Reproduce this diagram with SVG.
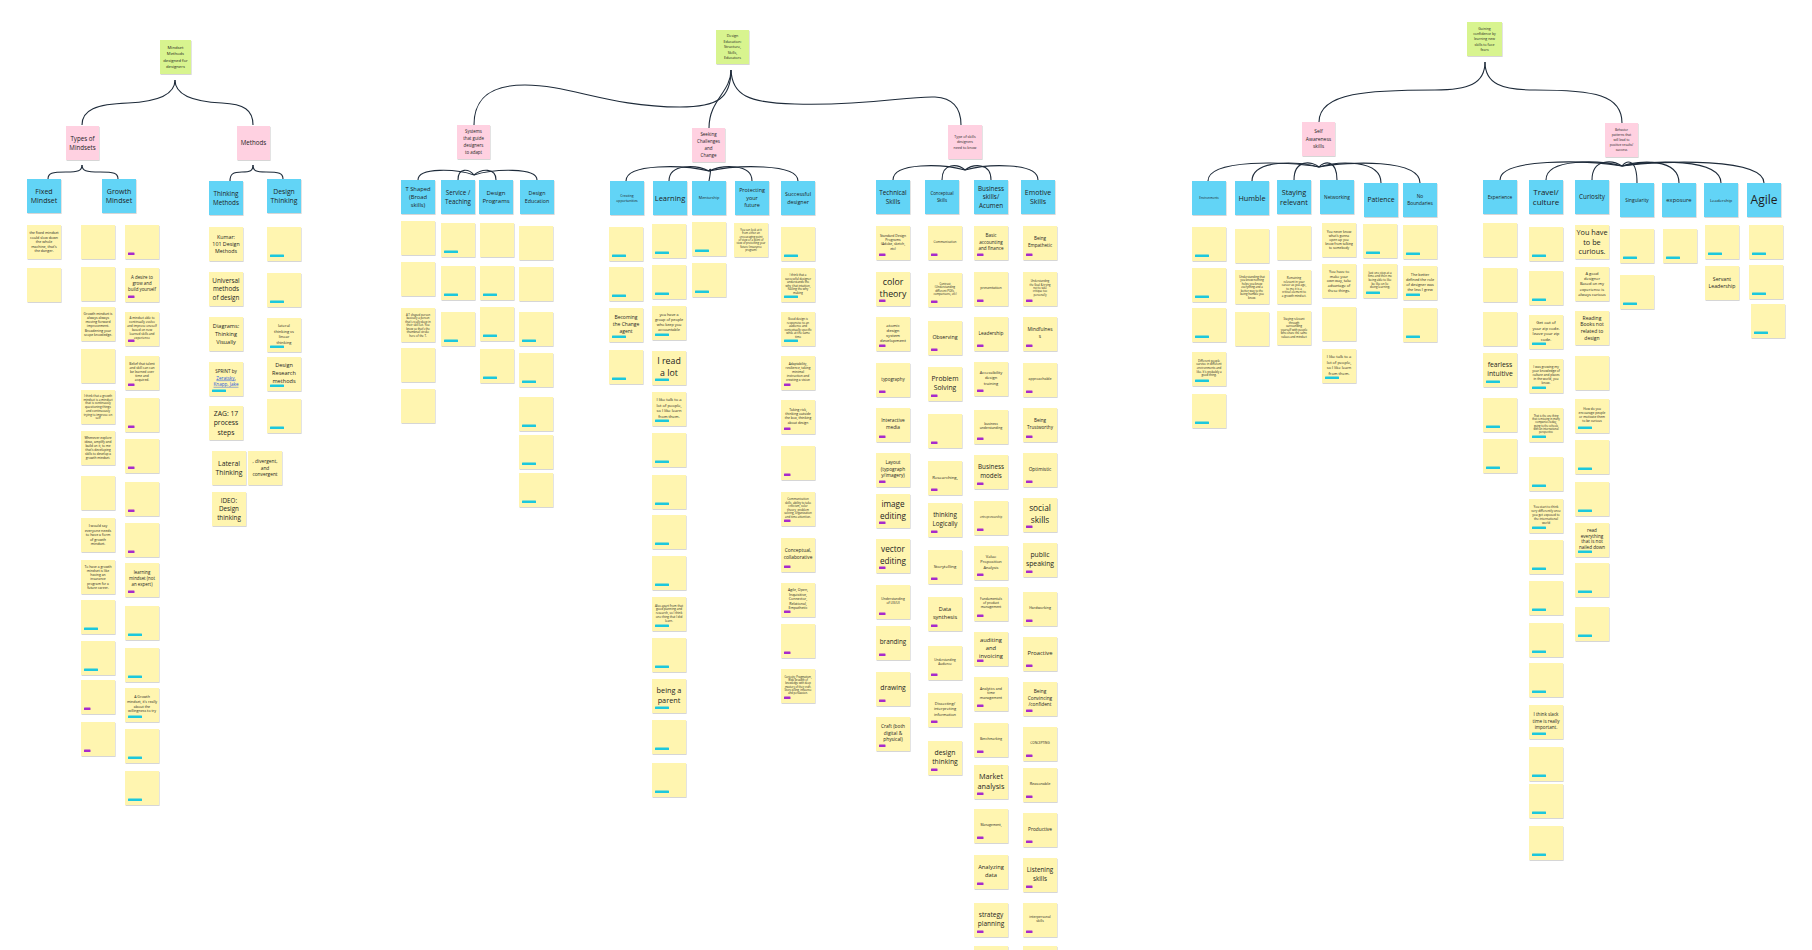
<svg xmlns="http://www.w3.org/2000/svg" xmlns:xlink="http://www.w3.org/1999/xlink" width="1812" height="950" viewBox="0 0 1812 950">
<style>
.note{fill:#fff5b0;filter:url(#sh)}
.hdr{fill:#62d4f6;filter:url(#sh)}
.cat{fill:#ffd1e1;filter:url(#sh)}
.root{fill:#d8f48f;filter:url(#sh)}
.tagp{fill:#a72bcc}
.tagc{fill:#1cc8dd}
.t{font-family:"Open Sans","Noto Sans",sans-serif;fill:#1d1d1d;text-anchor:middle}
.lk{fill:#1f55e0;text-decoration:underline}
.cn path{fill:none;stroke:#1e2b3a;stroke-width:1.1}
</style>
<defs>
<filter id="sh" x="-10%" y="-10%" width="130%" height="130%"><feDropShadow dx="0.6" dy="0.9" stdDeviation="0.5" flood-color="#000" flood-opacity="0.18"/></filter>
<rect id="N" width="34" height="34" class="note"/>
<rect id="P" x="3" y="27.5" width="6.5" height="2.6" rx="0.4" class="tagp"/>
<rect id="C" x="3" y="27.5" width="14" height="2.6" rx="0.4" class="tagc"/>
<rect id="H" width="34" height="34" class="hdr"/>
</defs>
<rect width="1812" height="950" fill="#ffffff"/>

<g id="connectors" class="cn">
<path d="M175,80 C175,98 150,102 128,103 C96,104 82,110 82,125"/>
<path d="M175,80 C175,98 200,102 222,103 C244,104 253,110 253,125"/>
<path d="M82,165 C82,171 78,172 66,172 C52,172 48,173 48,179"/>
<path d="M82,165 C82,171 86,172 100,172 C114,172 118,173 118,179"/>
<path d="M253,165 C253,171 250,172 242,172 C233,172 230,174 230,181"/>
<path d="M253,165 C253,171 256,172 266,172 C279,172 283,173 283,179"/>
<path d="M731,70 C731,98 718,107 680,107 C610,107 570,85 525,85 C488,85 474,100 474,125"/>
<path d="M731,70 C731,92 709,100 709,128"/>
<path d="M731,70 C732,95 748,103 795,104 C870,106 905,96 935,97 C953,98 961,108 961,125"/>
<path d="M1485,62 C1485,84 1468,90 1435,90 C1370,90 1319,92 1319,122"/>
<path d="M1485,62 C1485,84 1502,90 1535,90 C1595,90 1622,95 1622,123"/>
<path d="M474,175 C457,169 418,167 418,180"/>
<path d="M474,175 C469,169 458,167 458,180"/>
<path d="M474,175 C481,169 496,167 496,180"/>
<path d="M474,175 C493,169 537,167 537,180"/>
<path d="M709,171 C684,165 626,163 626,181"/>
<path d="M709,171 C697,165 669,163 669,181"/>
<path d="M709,171 C711,167 711,170 709,181"/>
<path d="M709,171 C722,165 752,163 752,181"/>
<path d="M709,171 C736,165 798,163 798,181"/>
<path d="M965,170 C943,164 893,162 893,180"/>
<path d="M965,170 C958,164 942,162 942,180"/>
<path d="M965,170 C973,164 991,162 991,180"/>
<path d="M965,170 C987,164 1038,162 1038,180"/>
<path d="M1319,167 C1286,161 1208,159 1208,181"/>
<path d="M1319,167 C1299,161 1252,159 1252,181"/>
<path d="M1319,167 C1312,161 1294,159 1294,180"/>
<path d="M1319,167 C1324,161 1337,159 1337,180"/>
<path d="M1319,167 C1338,161 1381,159 1381,183"/>
<path d="M1319,167 C1349,161 1420,159 1420,183"/>
<path d="M1622,166 C1585,160 1500,158 1500,180"/>
<path d="M1622,166 C1599,160 1546,158 1546,180"/>
<path d="M1622,166 C1613,160 1592,158 1592,180"/>
<path d="M1622,166 C1627,160 1637,158 1637,183"/>
<path d="M1622,166 C1639,160 1679,158 1679,183"/>
<path d="M1622,166 C1652,160 1721,158 1721,183"/>
<path d="M1622,166 C1665,160 1764,158 1764,183"/>
</g>

<!-- roots -->
<g id="root-mindset"><rect class="root" x="160" y="40" width="31" height="34"/><text class="t" x="175.5" y="49" font-size="4.2">Mindset<tspan x="175.5" dy="6.3">Methods</tspan><tspan x="175.5" dy="6.3">designed for</tspan><tspan x="175.5" dy="6.3">designers</tspan></text></g>
<g id="root-education"><rect class="root" x="716" y="30" width="33" height="34"/><text class="t" x="732.5" y="37.3" font-size="3.7">Design<tspan x="732.5" dy="5.5">Education:</tspan><tspan x="732.5" dy="5.5">Structure,</tspan><tspan x="732.5" dy="5.5">Skills,</tspan><tspan x="732.5" dy="5.5">Educators</tspan></text></g>
<g id="root-confidence"><rect class="root" x="1467" y="22" width="35" height="34"/><text class="t" x="1484.5" y="29.6" font-size="3.5">Gaining<tspan x="1484.5" dy="5.3">confidence by</tspan><tspan x="1484.5" dy="5.3">learning new</tspan><tspan x="1484.5" dy="5.3">skills to face</tspan><tspan x="1484.5" dy="5.3">fears</tspan></text></g>

<!-- categories -->
<g id="cat-types"><rect class="cat" x="66" y="126" width="33" height="34"/><text class="t" x="82.5" y="140.8" font-size="6.2">Types of<tspan x="82.5" dy="8.8">Mindsets</tspan></text></g>
<g id="cat-methods"><rect class="cat" x="237" y="126" width="33" height="34"/><text class="t" x="253.5" y="145.2" font-size="6.2">Methods</text></g>
<g id="cat-systems"><rect class="cat" x="457" y="125" width="33" height="34"/><text class="t" x="473.5" y="133.3" font-size="4.4">Systems<tspan x="473.5" dy="6.8">that guide</tspan><tspan x="473.5" dy="6.8">designers</tspan><tspan x="473.5" dy="6.8">to adapt</tspan></text></g>
<g id="cat-seeking"><rect class="cat" x="692" y="128" width="33" height="34"/><text class="t" x="708.5" y="136.1" font-size="4.5">Seeking<tspan x="708.5" dy="7">Challenges</tspan><tspan x="708.5" dy="7">and</tspan><tspan x="708.5" dy="7">Change</tspan></text></g>
<g id="cat-skilltypes"><rect class="cat" x="948" y="125" width="34" height="34"/><text class="t" x="965" y="137.5" font-size="3.6">Type of skills<tspan x="965" dy="5.8">designers</tspan><tspan x="965" dy="5.8">need to know</tspan></text></g>
<g id="cat-selfaware"><rect class="cat" x="1302" y="122" width="33" height="34"/><text class="t" x="1318.5" y="133.3" font-size="5">Self<tspan x="1318.5" dy="7.5">Awareness</tspan><tspan x="1318.5" dy="7.5">skills</tspan></text></g>
<g id="cat-behavior"><rect class="cat" x="1605" y="123" width="33" height="34"/><text class="t" x="1621.5" y="131.1" font-size="3.2">Behavior<tspan x="1621.5" dy="5">patterns that</tspan><tspan x="1621.5" dy="5">will lead to</tspan><tspan x="1621.5" dy="5">positive results/</tspan><tspan x="1621.5" dy="5">success</tspan></text></g>

<!-- headers -->
<g id="h-fixed"><use href="#H" x="27" y="179"/><text class="t" x="44" y="193.7" font-size="7">Fixed<tspan x="44" dy="9.6">Mindset</tspan></text></g>
<g id="h-growth"><use href="#H" x="102" y="179"/><text class="t" x="119" y="193.7" font-size="7">Growth<tspan x="119" dy="9.6">Mindset</tspan></text></g>
<g id="h-thinking"><use href="#H" x="209" y="181"/><text class="t" x="226" y="195.8" font-size="6.3">Thinking<tspan x="226" dy="8.8">Methods</tspan></text></g>
<g id="h-designthinking"><use href="#H" x="267" y="179"/><text class="t" x="284" y="193.6" font-size="6.8">Design<tspan x="284" dy="9.5">Thinking</tspan></text></g>
<g id="h-tshaped"><use href="#H" x="401" y="180"/><text class="t" x="418" y="191" font-size="5.8">T Shaped<tspan x="418" dy="8">(Broad</tspan><tspan x="418" dy="8">skills)</tspan></text></g>
<g id="h-service"><use href="#H" x="441" y="180"/><text class="t" x="458" y="194.9" font-size="6.2">Service /<tspan x="458" dy="8.6">Teaching</tspan></text></g>
<g id="h-programs"><use href="#H" x="479" y="180"/><text class="t" x="496" y="194.9" font-size="6">Design<tspan x="496" dy="8.4">Programs</tspan></text></g>
<g id="h-education"><use href="#H" x="520" y="180"/><text class="t" x="537" y="195.2" font-size="5.3">Design<tspan x="537" dy="7.4">Education</tspan></text></g>
<g id="h-creating"><use href="#H" x="610" y="181"/><text class="t" x="627" y="196.8" font-size="3.4">Creating<tspan x="627" dy="4.8">opportunities</tspan></text></g>
<g id="h-learning"><use href="#H" x="653" y="181"/><text class="t" x="670" y="200.6" font-size="7.5">Learning</text></g>
<g id="h-mentorship"><use href="#H" x="692" y="181"/><text class="t" x="709" y="199.3" font-size="3.8">Mentorship</text></g>
<g id="h-protecting"><use href="#H" x="735" y="181"/><text class="t" x="752" y="192.4" font-size="5.4">Protecting<tspan x="752" dy="7.5">your</tspan><tspan x="752" dy="7.5">future</tspan></text></g>
<g id="h-successful"><use href="#H" x="781" y="181"/><text class="t" x="798" y="196.1" font-size="5.4">Successful<tspan x="798" dy="7.5">designer</tspan></text></g>
<g id="h-technical"><use href="#H" x="876" y="180"/><text class="t" x="893" y="194.8" font-size="6.3">Technical<tspan x="893" dy="8.8">Skills</tspan></text></g>
<g id="h-conceptual"><use href="#H" x="925" y="180"/><text class="t" x="942" y="195.4" font-size="4.4">Conceptual<tspan x="942" dy="6.2">Skills</tspan></text></g>
<g id="h-business"><use href="#H" x="974" y="180"/><text class="t" x="991" y="190.6" font-size="6.3">Business<tspan x="991" dy="8.6">skills/</tspan><tspan x="991" dy="8.6">Acumen</tspan></text></g>
<g id="h-emotive"><use href="#H" x="1021" y="180"/><text class="t" x="1038" y="194.7" font-size="7">Emotive<tspan x="1038" dy="9.6">Skills</tspan></text></g>
<g id="h-environments"><use href="#H" x="1192" y="181"/><text class="t" x="1209" y="199" font-size="3">Environments</text></g>
<g id="h-humble"><use href="#H" x="1235" y="181"/><text class="t" x="1252" y="200.6" font-size="7.3">Humble</text></g>
<g id="h-staying"><use href="#H" x="1277" y="180"/><text class="t" x="1294" y="194.7" font-size="7.3">Staying<tspan x="1294" dy="9.8">relevant</tspan></text></g>
<g id="h-networking"><use href="#H" x="1320" y="180"/><text class="t" x="1337" y="198.7" font-size="4.8">Networking</text></g>
<g id="h-patience"><use href="#H" x="1364" y="183"/><text class="t" x="1381" y="202.4" font-size="6.8">Patience</text></g>
<g id="h-noboundaries"><use href="#H" x="1403" y="183"/><text class="t" x="1420" y="198.3" font-size="4.8">No<tspan x="1420" dy="6.7">Boundaries</tspan></text></g>
<g id="h-experience"><use href="#H" x="1483" y="180"/><text class="t" x="1500" y="198.7" font-size="4.8">Experience</text></g>
<g id="h-travel"><use href="#H" x="1529" y="180"/><text class="t" x="1546" y="194.6" font-size="8">Travel/<tspan x="1546" dy="10.5">culture</tspan></text></g>
<g id="h-curiosity"><use href="#H" x="1575" y="180"/><text class="t" x="1592" y="199.2" font-size="6.3">Curiosity</text></g>
<g id="h-singularity"><use href="#H" x="1620" y="183"/><text class="t" x="1637" y="201.7" font-size="4.8">Singularity</text></g>
<g id="h-exposure"><use href="#H" x="1662" y="183"/><text class="t" x="1679" y="202" font-size="5.8">exposure</text></g>
<g id="h-leadership"><use href="#H" x="1704" y="183"/><text class="t" x="1721" y="201.5" font-size="4.3">Leadership</text></g>
<g id="h-agile"><use href="#H" x="1747" y="183"/><text class="t" x="1764" y="204.2" font-size="12">Agile</text></g>

<!-- Fixed mindset notes -->
<g id="fx1"><use href="#N" x="27" y="225"/><text class="t" x="44" y="234.3" font-size="3.6">the fixed mindset<tspan x="44" dy="4.5">could slow down</tspan><tspan x="44" dy="4.5">the whole</tspan><tspan x="44" dy="4.5">machine, that's</tspan><tspan x="44" dy="4.5">the danger.</tspan></text></g>
<g id="fx2"><use href="#N" x="27" y="268"/></g>

<!-- Growth mindset col 1 -->
<g id="ga1"><use href="#N" x="81" y="225"/></g>
<g id="ga2"><use href="#N" x="81" y="267"/></g>
<g id="ga3"><use href="#N" x="81" y="307"/><text class="t" x="98" y="314.6" font-size="3.4">Growth mindset is<tspan x="98" dy="4.25">always always</tspan><tspan x="98" dy="4.25">moving forward</tspan><tspan x="98" dy="4.25">improvement.</tspan><tspan x="98" dy="4.25">Broadening your</tspan><tspan x="98" dy="4.25">scope knowledge.</tspan></text></g>
<g id="ga4"><use href="#N" x="81" y="349"/></g>
<g id="ga5"><use href="#N" x="81" y="390"/><text class="t" x="98" y="396.8" font-size="3">I think that a growth<tspan x="98" dy="3.75">mindset is a mindset</tspan><tspan x="98" dy="3.75">that is continuosly</tspan><tspan x="98" dy="3.75">questioning things</tspan><tspan x="98" dy="3.75">and continuously</tspan><tspan x="98" dy="3.75">trying to improve on</tspan><tspan x="98" dy="3.75">self</tspan></text></g>
<g id="ga6"><use href="#N" x="81" y="431"/><text class="t" x="98" y="439.1" font-size="3.2">Whenever explore<tspan x="98" dy="4">ideas, amplify and</tspan><tspan x="98" dy="4">build on it, to me</tspan><tspan x="98" dy="4">that's developing</tspan><tspan x="98" dy="4">skills to develop a</tspan><tspan x="98" dy="4">growth mindset.</tspan></text></g>
<g id="ga7"><use href="#N" x="81" y="476"/></g>
<g id="ga8"><use href="#N" x="81" y="518"/><text class="t" x="98" y="527.3" font-size="3.6">I would say<tspan x="98" dy="4.5">everyone needs</tspan><tspan x="98" dy="4.5">to have a form</tspan><tspan x="98" dy="4.5">of growth</tspan><tspan x="98" dy="4.5">mindset.</tspan></text></g>
<g id="ga9"><use href="#N" x="81" y="560"/><text class="t" x="98" y="567.6" font-size="3.4">To have a growth<tspan x="98" dy="4.25">mindset is like</tspan><tspan x="98" dy="4.25">having an</tspan><tspan x="98" dy="4.25">insurance</tspan><tspan x="98" dy="4.25">program for a</tspan><tspan x="98" dy="4.25">future career.</tspan></text></g>
<g id="ga10"><use href="#N" x="81" y="600"/><use href="#C" x="81" y="600"/></g>
<g id="ga11"><use href="#N" x="81" y="641"/><use href="#C" x="81" y="641"/></g>
<g id="ga12"><use href="#N" x="81" y="680"/><use href="#P" x="81" y="680"/></g>
<g id="ga13"><use href="#N" x="81" y="722"/><use href="#P" x="81" y="722"/></g>

<!-- Growth mindset col 2 -->
<g id="gb1"><use href="#N" x="125" y="225"/><use href="#P" x="125" y="225"/></g>
<g id="gb2"><use href="#N" x="125" y="268"/><use href="#P" x="125" y="268"/><text class="t" x="142" y="279.3" font-size="4.4">A desire to<tspan x="142" dy="6">grow and</tspan><tspan x="142" dy="6">build yourself</tspan></text></g>
<g id="gb3"><use href="#N" x="125" y="312"/><use href="#P" x="125" y="312"/><text class="t" x="142" y="319.3" font-size="3.1">A mindset able to<tspan x="142" dy="3.9">continually evolve</tspan><tspan x="142" dy="3.9">and improve oneself</tspan><tspan x="142" dy="3.9">based on new</tspan><tspan x="142" dy="3.9">learned skills and</tspan><tspan x="142" dy="3.9">experience</tspan></text></g>
<g id="gb4"><use href="#N" x="125" y="356"/><use href="#P" x="125" y="356"/><text class="t" x="142" y="364.9" font-size="3.3">Belief that talent<tspan x="142" dy="4.1">and skill can can</tspan><tspan x="142" dy="4.1">be learned over</tspan><tspan x="142" dy="4.1">time and</tspan><tspan x="142" dy="4.1">acquired.</tspan></text></g>
<g id="gb5"><use href="#N" x="125" y="398"/><use href="#P" x="125" y="398"/></g>
<g id="gb6"><use href="#N" x="125" y="439"/><use href="#P" x="125" y="439"/></g>
<g id="gb7"><use href="#N" x="125" y="482"/><use href="#P" x="125" y="482"/></g>
<g id="gb8"><use href="#N" x="125" y="523"/><use href="#P" x="125" y="523"/></g>
<g id="gb9"><use href="#N" x="125" y="563"/><use href="#P" x="125" y="563"/><text class="t" x="142" y="574.3" font-size="4.4">learning<tspan x="142" dy="6">mindset (not</tspan><tspan x="142" dy="6">an expert)</tspan></text></g>
<g id="gb10"><use href="#N" x="125" y="606"/><use href="#C" x="125" y="606"/></g>
<g id="gb11"><use href="#N" x="125" y="648"/><use href="#C" x="125" y="648"/></g>
<g id="gb12"><use href="#N" x="125" y="688"/><use href="#C" x="125" y="688"/><text class="t" x="142" y="698" font-size="3.6">A Growth<tspan x="142" dy="4.8">mindset, it's really</tspan><tspan x="142" dy="4.8">about the</tspan><tspan x="142" dy="4.8">willingness to try</tspan></text></g>
<g id="gb13"><use href="#N" x="125" y="729"/><use href="#C" x="125" y="729"/></g>
<g id="gb14"><use href="#N" x="125" y="771"/><use href="#C" x="125" y="771"/></g>

<!-- Thinking methods -->
<g id="tm1"><use href="#N" x="209" y="227"/><text class="t" x="226" y="238.5" font-size="5.3">Kumar:<tspan x="226" dy="7.4">101 Design</tspan><tspan x="226" dy="7.4">Methods</tspan></text></g>
<g id="tm2"><use href="#N" x="209" y="272"/><text class="t" x="226" y="282.6" font-size="6.3">Universal<tspan x="226" dy="8.6">methods</tspan><tspan x="226" dy="8.6">of design</tspan></text></g>
<g id="tm3"><use href="#N" x="209" y="317"/><text class="t" x="226" y="328.4" font-size="5.6">Diagrams:<tspan x="226" dy="7.6">Thinking</tspan><tspan x="226" dy="7.6">Visually</tspan></text></g>
<g id="tm4"><use href="#N" x="209" y="362"/><use href="#C" x="209" y="362"/><text class="t" x="226" y="373.3" font-size="4.6">SPRINT by<tspan x="226" dy="6.3" class="lk">Zeratsky,</tspan><tspan x="226" dy="6.3" class="lk">Knapp, Jake</tspan></text></g>
<g id="tm5"><use href="#N" x="209" y="406"/><text class="t" x="226" y="416.2" font-size="6.8">ZAG: 17<tspan x="226" dy="9.2">process</tspan><tspan x="226" dy="9.2">steps</tspan></text></g>
<g id="tm6"><use href="#N" x="212" y="451"/><text class="t" x="229" y="465.8" font-size="6.8">Lateral<tspan x="229" dy="9.2">Thinking</tspan></text></g>
<g id="tm7"><use href="#N" x="248" y="451"/><text class="t" x="265" y="463.1" font-size="4.8">, divergent,<tspan x="265" dy="6.6">and</tspan><tspan x="265" dy="6.6">convergent</tspan></text></g>
<g id="tm8"><use href="#N" x="212" y="492"/><text class="t" x="229" y="502.6" font-size="6.3">IDEO:<tspan x="229" dy="8.6">Design</tspan><tspan x="229" dy="8.6">thinking</tspan></text></g>

<!-- Design thinking -->
<g id="dt1"><use href="#N" x="267" y="227"/><use href="#C" x="267" y="227"/></g>
<g id="dt2"><use href="#N" x="267" y="273"/><use href="#C" x="267" y="273"/></g>
<g id="dt3"><use href="#N" x="267" y="318"/><use href="#C" x="267" y="318"/><text class="t" x="284" y="327.3" font-size="4">lateral<tspan x="284" dy="5.4">thinking vs</tspan><tspan x="284" dy="5.4">linear</tspan><tspan x="284" dy="5.4">thinking</tspan></text></g>
<g id="dt4"><use href="#N" x="267" y="357"/><use href="#C" x="267" y="357"/><text class="t" x="284" y="367.4" font-size="5.6">Design<tspan x="284" dy="7.6">Research</tspan><tspan x="284" dy="7.6">methods</tspan></text></g>
<g id="dt5"><use href="#N" x="267" y="399"/><use href="#C" x="267" y="399"/></g>

<!-- T shaped -->
<g id="ts1"><use href="#N" x="401" y="221"/></g>
<g id="ts2"><use href="#N" x="401" y="262"/></g>
<g id="ts3"><use href="#N" x="401" y="308"/><text class="t" x="418" y="315.5" font-size="2.8">A T shaped person<tspan x="418" dy="3.5">basically a person</tspan><tspan x="418" dy="3.5">that's really deep in</tspan><tspan x="418" dy="3.5">their skill set. You</tspan><tspan x="418" dy="3.5">know so that's the</tspan><tspan x="418" dy="3.5">thumbnail stroke</tspan><tspan x="418" dy="3.5">here of the T.</tspan></text></g>
<g id="ts4"><use href="#N" x="401" y="348"/></g>
<g id="ts5"><use href="#N" x="401" y="389"/></g>

<!-- Service / Teaching -->
<g id="sv1"><use href="#N" x="441" y="223"/><use href="#C" x="441" y="223"/></g>
<g id="sv2"><use href="#N" x="441" y="266"/><use href="#C" x="441" y="266"/></g>
<g id="sv3"><use href="#N" x="441" y="312"/><use href="#C" x="441" y="312"/></g>

<!-- Design programs -->
<g id="dp1"><use href="#N" x="480" y="223"/></g>
<g id="dp2"><use href="#N" x="480" y="266"/><use href="#C" x="480" y="266"/></g>
<g id="dp3"><use href="#N" x="480" y="307"/><use href="#C" x="480" y="307"/></g>
<g id="dp4"><use href="#N" x="480" y="349"/><use href="#C" x="480" y="349"/></g>

<!-- Design education -->
<g id="de1"><use href="#N" x="519" y="226"/></g>
<g id="de2"><use href="#N" x="519" y="267"/></g>
<g id="de3"><use href="#N" x="519" y="312"/><use href="#C" x="519" y="312"/></g>
<g id="de4"><use href="#N" x="519" y="353"/><use href="#C" x="519" y="353"/></g>
<g id="de5"><use href="#N" x="519" y="397"/><use href="#C" x="519" y="397"/></g>
<g id="de6"><use href="#N" x="519" y="435"/><use href="#C" x="519" y="435"/></g>
<g id="de7"><use href="#N" x="519" y="473"/><use href="#C" x="519" y="473"/></g>

<!-- Creating opportunities -->
<g id="co1"><use href="#N" x="609" y="227"/><use href="#C" x="609" y="227"/></g>
<g id="co2"><use href="#N" x="609" y="267"/><use href="#C" x="609" y="267"/></g>
<g id="co3"><use href="#N" x="609" y="308"/><use href="#C" x="609" y="308"/><text class="t" x="626" y="318.9" font-size="5">Becoming<tspan x="626" dy="6.9">the Change</tspan><tspan x="626" dy="6.9">agent</tspan></text></g>
<g id="co4"><use href="#N" x="609" y="350"/><use href="#C" x="609" y="350"/></g>

<!-- Learning -->
<g id="le1"><use href="#N" x="652" y="224"/><use href="#C" x="652" y="224"/></g>
<g id="le2"><use href="#N" x="652" y="265"/><use href="#C" x="652" y="265"/></g>
<g id="le3"><use href="#N" x="652" y="306"/><use href="#C" x="652" y="306"/><text class="t" x="669" y="315.8" font-size="3.8">you have a<tspan x="669" dy="5">group of people</tspan><tspan x="669" dy="5">who keep you</tspan><tspan x="669" dy="5">accountable</tspan></text></g>
<g id="le4"><use href="#N" x="652" y="351"/><use href="#C" x="652" y="351"/><text class="t" x="669" y="364.1" font-size="8.8">I read<tspan x="669" dy="12">a lot</tspan></text></g>
<g id="le5"><use href="#N" x="652" y="392"/><use href="#C" x="652" y="392"/><text class="t" x="669" y="401.2" font-size="4.1">I like talk to a<tspan x="669" dy="5.5">lot of people,</tspan><tspan x="669" dy="5.5">so I like learn</tspan><tspan x="669" dy="5.5">from them.</tspan></text></g>
<g id="le6"><use href="#N" x="652" y="433"/><use href="#C" x="652" y="433"/></g>
<g id="le7"><use href="#N" x="652" y="475"/><use href="#C" x="652" y="475"/></g>
<g id="le8"><use href="#N" x="652" y="515"/><use href="#C" x="652" y="515"/></g>
<g id="le9"><use href="#N" x="652" y="556"/><use href="#C" x="652" y="556"/></g>
<g id="le10"><use href="#N" x="652" y="597"/><use href="#C" x="652" y="597"/><text class="t" x="669" y="606.6" font-size="3">Also apart from that<tspan x="669" dy="3.75">good planning and</tspan><tspan x="669" dy="3.75">research, so I think</tspan><tspan x="669" dy="3.75">one thing that I did</tspan><tspan x="669" dy="3.75">learn.</tspan></text></g>
<g id="le11"><use href="#N" x="652" y="638"/><use href="#C" x="652" y="638"/></g>
<g id="le12"><use href="#N" x="652" y="679"/><use href="#C" x="652" y="679"/><text class="t" x="669" y="692.6" font-size="7.3">being a<tspan x="669" dy="10">parent</tspan></text></g>
<g id="le13"><use href="#N" x="652" y="720"/><use href="#C" x="652" y="720"/></g>
<g id="le14"><use href="#N" x="652" y="763"/><use href="#C" x="652" y="763"/></g>

<!-- Mentorship -->
<g id="me1"><use href="#N" x="692" y="222"/><use href="#C" x="692" y="222"/></g>
<g id="me2"><use href="#N" x="692" y="263"/><use href="#C" x="692" y="263"/></g>

<!-- Protecting your future -->
<g id="pf1"><use href="#N" x="734" y="223"/><text class="t" x="751" y="230.8" font-size="2.7">You can look at it<tspan x="751" dy="3.4">from either an</tspan><tspan x="751" dy="3.4">encouraging point</tspan><tspan x="751" dy="3.4">of view or a point of</tspan><tspan x="751" dy="3.4">view of protecting your</tspan><tspan x="751" dy="3.4">future (insurance</tspan><tspan x="751" dy="3.4">program)</tspan></text></g>

<!-- Successful designer -->
<g id="sd1"><use href="#N" x="781" y="227"/><use href="#C" x="781" y="227"/></g>
<g id="sd2"><use href="#N" x="781" y="268"/><use href="#C" x="781" y="268"/><text class="t" x="798" y="276" font-size="2.9">I think that a<tspan x="798" dy="3.6">successful designer</tspan><tspan x="798" dy="3.6">understands the</tspan><tspan x="798" dy="3.6">why, that intuition,</tspan><tspan x="798" dy="3.6">fueling the why</tspan><tspan x="798" dy="3.6">making</tspan></text></g>
<g id="sd3"><use href="#N" x="781" y="312"/><use href="#C" x="781" y="312"/><text class="t" x="798" y="320" font-size="2.9">Good design is<tspan x="798" dy="3.6">responsive to an</tspan><tspan x="798" dy="3.6">audience and</tspan><tspan x="798" dy="3.6">contextually specific</tspan><tspan x="798" dy="3.6">while at the same</tspan><tspan x="798" dy="3.6">time</tspan></text></g>
<g id="sd4"><use href="#N" x="781" y="356"/><use href="#P" x="781" y="356"/><text class="t" x="798" y="365.1" font-size="3.2">Adaptability,<tspan x="798" dy="4">resilience, taking</tspan><tspan x="798" dy="4">minimal</tspan><tspan x="798" dy="4">instruction and</tspan><tspan x="798" dy="4">creating a vision</tspan></text></g>
<g id="sd5"><use href="#N" x="781" y="400"/><use href="#P" x="781" y="400"/><text class="t" x="798" y="410.8" font-size="3.4">Taking risk,<tspan x="798" dy="4.25">thinking outside</tspan><tspan x="798" dy="4.25">the box, thinking</tspan><tspan x="798" dy="4.25">about design</tspan></text></g>
<g id="sd6"><use href="#N" x="781" y="446"/><use href="#P" x="781" y="446"/></g>
<g id="sd7"><use href="#N" x="781" y="492"/><use href="#P" x="781" y="492"/><text class="t" x="798" y="500" font-size="2.9">Communication<tspan x="798" dy="3.6">skills, ability to take</tspan><tspan x="798" dy="3.6">criticism, color</tspan><tspan x="798" dy="3.6">theory, problem</tspan><tspan x="798" dy="3.6">solving, organization</tspan><tspan x="798" dy="3.6">and time attention.</tspan></text></g>
<g id="sd8"><use href="#N" x="781" y="538"/><use href="#P" x="781" y="538"/><text class="t" x="798" y="552.3" font-size="4.8">Conceptual,<tspan x="798" dy="6.7">collaborative</tspan></text></g>
<g id="sd9"><use href="#N" x="781" y="583"/><use href="#P" x="781" y="583"/><text class="t" x="798" y="591.3" font-size="3.6">Agile, Open,<tspan x="798" dy="4.5">Inquisitive,</tspan><tspan x="798" dy="4.5">Connector,</tspan><tspan x="798" dy="4.5">Relational,</tspan><tspan x="798" dy="4.5">Empathetic</tspan></text></g>
<g id="sd10"><use href="#N" x="781" y="624"/><use href="#P" x="781" y="624"/></g>
<g id="sd11"><use href="#N" x="781" y="669"/><use href="#P" x="781" y="669"/><text class="t" x="798" y="677.8" font-size="2.6">Curiosity, Pragmatism,<tspan x="798" dy="3.25">Wide breadth of</tspan><tspan x="798" dy="3.25">knowledge with deep</tspan><tspan x="798" dy="3.25">mastery of their craft.</tspan><tspan x="798" dy="3.25">Story-telling, influence</tspan><tspan x="798" dy="3.25">and persuasion.</tspan></text></g>

<!-- Technical skills -->
<g id="te1"><use href="#N" x="876" y="226"/><use href="#P" x="876" y="226"/><text class="t" x="893" y="236.8" font-size="3.4">Standard Design<tspan x="893" dy="4.25">Programs</tspan><tspan x="893" dy="4.25">(Adobe, sketch,</tspan><tspan x="893" dy="4.25">etc)</tspan></text></g>
<g id="te2"><use href="#N" x="876" y="272"/><use href="#P" x="876" y="272"/><text class="t" x="893" y="285" font-size="8.8">color<tspan x="893" dy="12.3">theory</tspan></text></g>
<g id="te3"><use href="#N" x="876" y="317"/><use href="#P" x="876" y="317"/><text class="t" x="893" y="326.6" font-size="4.2">atomic<tspan x="893" dy="5.25">design</tspan><tspan x="893" dy="5.25">system</tspan><tspan x="893" dy="5.25">development</tspan></text></g>
<g id="te4"><use href="#N" x="876" y="363"/><use href="#P" x="876" y="363"/><text class="t" x="893" y="380.5" font-size="4.4">typography</text></g>
<g id="te5"><use href="#N" x="876" y="408"/><use href="#P" x="876" y="408"/><text class="t" x="893" y="422.4" font-size="4.8">Interactive<tspan x="893" dy="6.6">media</tspan></text></g>
<g id="te6"><use href="#N" x="876" y="453"/><use href="#P" x="876" y="453"/><text class="t" x="893" y="464.4" font-size="4.8">Layout<tspan x="893" dy="6.3">(typograph</tspan><tspan x="893" dy="6.3">y/imagery)</tspan></text></g>
<g id="te7"><use href="#N" x="876" y="494"/><use href="#P" x="876" y="494"/><text class="t" x="893" y="507.3" font-size="8.2">image<tspan x="893" dy="11.2">editing</tspan></text></g>
<g id="te8"><use href="#N" x="876" y="539"/><use href="#P" x="876" y="539"/><text class="t" x="893" y="552.3" font-size="8.2">vector<tspan x="893" dy="11.2">editing</tspan></text></g>
<g id="te9"><use href="#N" x="876" y="585"/><use href="#P" x="876" y="585"/><text class="t" x="893" y="600.1" font-size="3.4">Understanding<tspan x="893" dy="4.25">of UX/UI</tspan></text></g>
<g id="te10"><use href="#N" x="876" y="626"/><use href="#P" x="876" y="626"/><text class="t" x="893" y="644.2" font-size="6.3">branding</text></g>
<g id="te11"><use href="#N" x="876" y="672"/><use href="#P" x="876" y="672"/><text class="t" x="893" y="690.4" font-size="6.8">drawing</text></g>
<g id="te12"><use href="#N" x="876" y="717"/><use href="#P" x="876" y="717"/><text class="t" x="893" y="728.1" font-size="4.8">Craft (both<tspan x="893" dy="6.6">digital &amp;</tspan><tspan x="893" dy="6.6">physical)</tspan></text></g>

<!-- Conceptual skills -->
<g id="cs1"><use href="#N" x="928" y="226"/><use href="#P" x="928" y="226"/><text class="t" x="945" y="243.1" font-size="3.1">Communication</text></g>
<g id="cs2"><use href="#N" x="928" y="273"/><use href="#P" x="928" y="273"/><text class="t" x="945" y="284.7" font-size="2.8">Contrast<tspan x="945" dy="3.5">(Understanding</tspan><tspan x="945" dy="3.5">different POVs,</tspan><tspan x="945" dy="3.5">comparisons, etc)</tspan></text></g>
<g id="cs3"><use href="#N" x="928" y="321"/><use href="#P" x="928" y="321"/><text class="t" x="945" y="338.9" font-size="5.3">Observing</text></g>
<g id="cs4"><use href="#N" x="928" y="367"/><use href="#P" x="928" y="367"/><text class="t" x="945" y="380.8" font-size="6.8">Problem<tspan x="945" dy="9.2">Solving</tspan></text></g>
<g id="cs5"><use href="#N" x="928" y="414"/><use href="#P" x="928" y="414"/></g>
<g id="cs6"><use href="#N" x="928" y="461"/><use href="#P" x="928" y="461"/><text class="t" x="945" y="478.5" font-size="4.3">Researching,</text></g>
<g id="cs7"><use href="#N" x="928" y="503"/><use href="#P" x="928" y="503"/><text class="t" x="945" y="516.9" font-size="6.3">thinking<tspan x="945" dy="8.6">Logically</tspan></text></g>
<g id="cs8"><use href="#N" x="928" y="550"/><use href="#P" x="928" y="550"/><text class="t" x="945" y="567.5" font-size="4.3">Storytelling</text></g>
<g id="cs9"><use href="#N" x="928" y="597"/><use href="#P" x="928" y="597"/><text class="t" x="945" y="611.2" font-size="5.6">Data<tspan x="945" dy="7.6">synthesis</tspan></text></g>
<g id="cs10"><use href="#N" x="928" y="646"/><use href="#P" x="928" y="646"/><text class="t" x="945" y="661.1" font-size="3.1">Understanding<tspan x="945" dy="3.9">Audience</tspan></text></g>
<g id="cs11"><use href="#N" x="928" y="693"/><use href="#P" x="928" y="693"/><text class="t" x="945" y="704.9" font-size="4">Dissecting/<tspan x="945" dy="5.5">interpreting</tspan><tspan x="945" dy="5.5">information</tspan></text></g>
<g id="cs12"><use href="#N" x="928" y="741"/><use href="#P" x="928" y="741"/><text class="t" x="945" y="754.8" font-size="6.8">design<tspan x="945" dy="9.2">thinking</tspan></text></g>

<!-- Business skills -->
<g id="bs1"><use href="#N" x="974" y="226"/><use href="#P" x="974" y="226"/><text class="t" x="991" y="237.3" font-size="4.6">Basic<tspan x="991" dy="6.3">accounting</tspan><tspan x="991" dy="6.3">and finance</tspan></text></g>
<g id="bs2"><use href="#N" x="974" y="272"/><use href="#P" x="974" y="272"/><text class="t" x="991" y="289.3" font-size="3.6">presentation</text></g>
<g id="bs3"><use href="#N" x="974" y="317"/><use href="#P" x="974" y="317"/><text class="t" x="991" y="334.7" font-size="4.8">Leadership</text></g>
<g id="bs4"><use href="#N" x="974" y="362"/><use href="#P" x="974" y="362"/><text class="t" x="991" y="373.9" font-size="4">Accessibility<tspan x="991" dy="5.5">design</tspan><tspan x="991" dy="5.5">training</tspan></text></g>
<g id="bs5"><use href="#N" x="974" y="410"/><use href="#P" x="974" y="410"/><text class="t" x="991" y="425.1" font-size="3.3">business<tspan x="991" dy="4.1">understanding</tspan></text></g>
<g id="bs6"><use href="#N" x="974" y="455"/><use href="#P" x="974" y="455"/><text class="t" x="991" y="468.9" font-size="6.3">Business<tspan x="991" dy="8.6">models</tspan></text></g>
<g id="bs7"><use href="#N" x="974" y="501"/><use href="#P" x="974" y="501"/><text class="t" x="991" y="518" font-size="2.7">entrepreneurship</text></g>
<g id="bs8"><use href="#N" x="974" y="546"/><use href="#P" x="974" y="546"/><text class="t" x="991" y="557.9" font-size="4">Value<tspan x="991" dy="5.5">Proposition</tspan><tspan x="991" dy="5.5">Analysis</tspan></text></g>
<g id="bs9"><use href="#N" x="974" y="587"/><use href="#P" x="974" y="587"/><text class="t" x="991" y="600.1" font-size="3.3">Fundamentals<tspan x="991" dy="4.1">of product</tspan><tspan x="991" dy="4.1">management</tspan></text></g>
<g id="bs10"><use href="#N" x="974" y="632"/><use href="#P" x="974" y="632"/><text class="t" x="991" y="642.4" font-size="5.8">auditing<tspan x="991" dy="7.6">and</tspan><tspan x="991" dy="7.6">invoicing</tspan></text></g>
<g id="bs11"><use href="#N" x="974" y="677"/><use href="#P" x="974" y="677"/><text class="t" x="991" y="689.8" font-size="3.6">Analytics and<tspan x="991" dy="4.5">time</tspan><tspan x="991" dy="4.5">management</tspan></text></g>
<g id="bs12"><use href="#N" x="974" y="723"/><use href="#P" x="974" y="723"/><text class="t" x="991" y="740.2" font-size="3.3">Benchmarking</text></g>
<g id="bs13"><use href="#N" x="974" y="765"/><use href="#P" x="974" y="765"/><text class="t" x="991" y="778.6" font-size="7.3">Market<tspan x="991" dy="10">analysis</tspan></text></g>
<g id="bs14"><use href="#N" x="974" y="809"/><use href="#P" x="974" y="809"/><text class="t" x="991" y="826.2" font-size="3.3">Management,</text></g>
<g id="bs15"><use href="#N" x="974" y="855"/><use href="#P" x="974" y="855"/><text class="t" x="991" y="869.1" font-size="5.8">Analyzing<tspan x="991" dy="7.9">data</tspan></text></g>
<g id="bs16"><use href="#N" x="974" y="903"/><use href="#P" x="974" y="903"/><text class="t" x="991" y="916.9" font-size="6.5">strategy<tspan x="991" dy="8.8">planning</tspan></text></g>
<g id="bs17"><use href="#N" x="974" y="946"/></g>

<!-- Emotive skills -->
<g id="em1"><use href="#N" x="1023" y="226"/><use href="#P" x="1023" y="226"/><text class="t" x="1040" y="240.4" font-size="4.6">Being<tspan x="1040" dy="6.3">Empathetic</tspan></text></g>
<g id="em2"><use href="#N" x="1023" y="272"/><use href="#P" x="1023" y="272"/><text class="t" x="1040" y="282.2" font-size="2.7">Understanding<tspan x="1040" dy="3.4">the Goal &amp; trying</tspan><tspan x="1040" dy="3.4">not to take</tspan><tspan x="1040" dy="3.4">critique too</tspan><tspan x="1040" dy="3.4">personally</tspan></text></g>
<g id="em3"><use href="#N" x="1023" y="317"/><use href="#P" x="1023" y="317"/><text class="t" x="1040" y="331.4" font-size="4.8">Mindfulnes<tspan x="1040" dy="6.6">s</tspan></text></g>
<g id="em4"><use href="#N" x="1023" y="363"/><use href="#P" x="1023" y="363"/><text class="t" x="1040" y="380.3" font-size="3.6">approachable</text></g>
<g id="em5"><use href="#N" x="1023" y="408"/><use href="#P" x="1023" y="408"/><text class="t" x="1040" y="422.4" font-size="4.6">Being<tspan x="1040" dy="6.3">Trustworthy</tspan></text></g>
<g id="em6"><use href="#N" x="1023" y="453"/><use href="#P" x="1023" y="453"/><text class="t" x="1040" y="470.7" font-size="4.8">Optimistic</text></g>
<g id="em7"><use href="#N" x="1023" y="498"/><use href="#P" x="1023" y="498"/><text class="t" x="1040" y="511.2" font-size="8.3">social<tspan x="1040" dy="11.4">skills</tspan></text></g>
<g id="em8"><use href="#N" x="1023" y="543"/><use href="#P" x="1023" y="543"/><text class="t" x="1040" y="556.9" font-size="6.8">public<tspan x="1040" dy="9">speaking</tspan></text></g>
<g id="em9"><use href="#N" x="1023" y="592"/><use href="#P" x="1023" y="592"/><text class="t" x="1040" y="609.3" font-size="3.6">Hardworking</text></g>
<g id="em10"><use href="#N" x="1023" y="637"/><use href="#P" x="1023" y="637"/><text class="t" x="1040" y="655" font-size="5.8">Proactive</text></g>
<g id="em11"><use href="#N" x="1023" y="682"/><use href="#P" x="1023" y="682"/><text class="t" x="1040" y="692.9" font-size="4.8">Being<tspan x="1040" dy="6.7">Convincing</tspan><tspan x="1040" dy="6.7">/confident</tspan></text></g>
<g id="em12"><use href="#N" x="1023" y="727"/><use href="#P" x="1023" y="727"/><text class="t" x="1040" y="744.1" font-size="3.1">CONCEPTING</text></g>
<g id="em13"><use href="#N" x="1023" y="768"/><use href="#P" x="1023" y="768"/><text class="t" x="1040" y="785.3" font-size="3.8">Reasonable</text></g>
<g id="em14"><use href="#N" x="1023" y="813"/><use href="#P" x="1023" y="813"/><text class="t" x="1040" y="830.7" font-size="4.8">Productive</text></g>
<g id="em15"><use href="#N" x="1023" y="858"/><use href="#P" x="1023" y="858"/><text class="t" x="1040" y="871.9" font-size="6.3">Listening<tspan x="1040" dy="8.6">skills</tspan></text></g>
<g id="em16"><use href="#N" x="1023" y="903"/><use href="#P" x="1023" y="903"/><text class="t" x="1040" y="918.1" font-size="3.4">interpersonal<tspan x="1040" dy="4.25">skills</tspan></text></g>
<g id="em17"><use href="#N" x="1023" y="946"/></g>

<!-- Environments -->
<g id="en1"><use href="#N" x="1192" y="227"/><use href="#C" x="1192" y="227"/></g>
<g id="en2"><use href="#N" x="1192" y="268"/><use href="#C" x="1192" y="268"/></g>
<g id="en3"><use href="#N" x="1192" y="308"/><use href="#C" x="1192" y="308"/></g>
<g id="en4"><use href="#N" x="1192" y="352"/><use href="#C" x="1192" y="352"/><text class="t" x="1209" y="361.8" font-size="2.9">Different people<tspan x="1209" dy="3.6">survive in different</tspan><tspan x="1209" dy="3.6">environments and</tspan><tspan x="1209" dy="3.6">like. It's probably a</tspan><tspan x="1209" dy="3.6">good thing.</tspan></text></g>
<g id="en5"><use href="#N" x="1192" y="394"/><use href="#C" x="1192" y="394"/></g>

<!-- Humble -->
<g id="hu1"><use href="#N" x="1235" y="229"/></g>
<g id="hu2"><use href="#N" x="1235" y="270"/><text class="t" x="1252" y="277.5" font-size="2.8">Understanding that<tspan x="1252" dy="3.5">you know nothing</tspan><tspan x="1252" dy="3.5">helps you know</tspan><tspan x="1252" dy="3.5">everything and a</tspan><tspan x="1252" dy="3.5">better way to the</tspan><tspan x="1252" dy="3.5">being humble you</tspan><tspan x="1252" dy="3.5">know.</tspan></text></g>
<g id="hu3"><use href="#N" x="1235" y="312"/></g>

<!-- Staying relevant -->
<g id="sr1"><use href="#N" x="1277" y="226"/></g>
<g id="sr2"><use href="#N" x="1277" y="270"/><text class="t" x="1294" y="279" font-size="2.9">Remaining<tspan x="1294" dy="3.6">relevant in your</tspan><tspan x="1294" dy="3.6">career as you age,</tspan><tspan x="1294" dy="3.6">to me it is a</tspan><tspan x="1294" dy="3.6">critical element to</tspan><tspan x="1294" dy="3.6">a growth mindset.</tspan></text></g>
<g id="sr3"><use href="#N" x="1277" y="311"/><text class="t" x="1294" y="320.2" font-size="2.8">Staying relevant<tspan x="1294" dy="3.5">through</tspan><tspan x="1294" dy="3.5">surrounding</tspan><tspan x="1294" dy="3.5">yourself with people</tspan><tspan x="1294" dy="3.5">who share the same</tspan><tspan x="1294" dy="3.5">values and mindset</tspan></text></g>

<!-- Networking -->
<g id="nw1"><use href="#N" x="1322" y="223"/><text class="t" x="1339" y="233" font-size="3.3">You never know<tspan x="1339" dy="4.1">what's gonna</tspan><tspan x="1339" dy="4.1">open up you</tspan><tspan x="1339" dy="4.1">know from talking</tspan><tspan x="1339" dy="4.1">to somebody</tspan></text></g>
<g id="nw2"><use href="#N" x="1322" y="264"/><text class="t" x="1339" y="273.1" font-size="3.7">You have to<tspan x="1339" dy="4.6">make your</tspan><tspan x="1339" dy="4.6">own way, take</tspan><tspan x="1339" dy="4.6">advantage of</tspan><tspan x="1339" dy="4.6">these things.</tspan></text></g>
<g id="nw3"><use href="#N" x="1322" y="307"/></g>
<g id="nw4"><use href="#N" x="1322" y="349"/><use href="#C" x="1322" y="349"/><text class="t" x="1339" y="358.4" font-size="4">I like talk to a<tspan x="1339" dy="5.4">lot of people,</tspan><tspan x="1339" dy="5.4">so I like learn</tspan><tspan x="1339" dy="5.4">from them.</tspan></text></g>

<!-- Patience -->
<g id="pa1"><use href="#N" x="1363" y="224"/><use href="#C" x="1363" y="224"/></g>
<g id="pa2"><use href="#N" x="1363" y="264"/><use href="#C" x="1363" y="264"/><text class="t" x="1380" y="273.8" font-size="2.9">Just one step at a<tspan x="1380" dy="3.6">time and then me</tspan><tspan x="1380" dy="3.6">being able to like</tspan><tspan x="1380" dy="3.6">be like on lie</tspan><tspan x="1380" dy="3.6">doing learning.</tspan></text></g>

<!-- No Boundaries -->
<g id="nb1"><use href="#N" x="1403" y="225"/><use href="#C" x="1403" y="225"/></g>
<g id="nb2"><use href="#N" x="1403" y="266"/><use href="#C" x="1403" y="266"/><text class="t" x="1420" y="275.8" font-size="3.8">The better<tspan x="1420" dy="5">defined the role</tspan><tspan x="1420" dy="5">of designer was</tspan><tspan x="1420" dy="5">the less I grew</tspan></text></g>
<g id="nb3"><use href="#N" x="1403" y="308"/><use href="#C" x="1403" y="308"/></g>

<!-- Experience -->
<g id="ex1"><use href="#N" x="1483" y="223"/></g>
<g id="ex2"><use href="#N" x="1483" y="268"/></g>
<g id="ex3"><use href="#N" x="1483" y="312"/></g>
<g id="ex4"><use href="#N" x="1483" y="353"/><use href="#C" x="1483" y="353"/><text class="t" x="1500" y="366.8" font-size="6.8">fearless<tspan x="1500" dy="9.2">intuitive</tspan></text></g>
<g id="ex5"><use href="#N" x="1483" y="398"/><use href="#C" x="1483" y="398"/></g>
<g id="ex6"><use href="#N" x="1483" y="439"/><use href="#C" x="1483" y="439"/></g>

<!-- Travel / culture -->
<g id="tr1"><use href="#N" x="1529" y="227"/><use href="#C" x="1529" y="227"/></g>
<g id="tr2"><use href="#N" x="1529" y="271"/><use href="#C" x="1529" y="271"/></g>
<g id="tr3"><use href="#N" x="1529" y="315"/><use href="#C" x="1529" y="315"/><text class="t" x="1546" y="324" font-size="4.2">Get out of<tspan x="1546" dy="5.6">your zip code.</tspan><tspan x="1546" dy="5.6">leave your zip</tspan><tspan x="1546" dy="5.6">code.</tspan></text></g>
<g id="tr4"><use href="#N" x="1529" y="359"/><use href="#C" x="1529" y="359"/><text class="t" x="1546" y="368.1" font-size="3.2">I was growing my<tspan x="1546" dy="4">your knowledge of</tspan><tspan x="1546" dy="4">culture and places</tspan><tspan x="1546" dy="4">in the world, you</tspan><tspan x="1546" dy="4">know.</tspan></text></g>
<g id="tr5"><use href="#N" x="1529" y="408"/><use href="#C" x="1529" y="408"/><text class="t" x="1546" y="416.8" font-size="2.6">That is the one thing<tspan x="1546" dy="3.25">that is missing in many</tspan><tspan x="1546" dy="3.25">companies today,</tspan><tspan x="1546" dy="3.25">going to the schools</tspan><tspan x="1546" dy="3.25">with an international</tspan><tspan x="1546" dy="3.25">perspective</tspan></text></g>
<g id="tr6"><use href="#N" x="1529" y="457"/><use href="#C" x="1529" y="457"/></g>
<g id="tr7"><use href="#N" x="1529" y="499"/><use href="#C" x="1529" y="499"/><text class="t" x="1546" y="508.3" font-size="3.1">You start to think<tspan x="1546" dy="3.9">very differently once</tspan><tspan x="1546" dy="3.9">you get exposed to</tspan><tspan x="1546" dy="3.9">the international</tspan><tspan x="1546" dy="3.9">world</tspan></text></g>
<g id="tr8"><use href="#N" x="1529" y="540"/><use href="#C" x="1529" y="540"/></g>
<g id="tr9"><use href="#N" x="1529" y="581"/><use href="#C" x="1529" y="581"/></g>
<g id="tr10"><use href="#N" x="1529" y="623"/><use href="#C" x="1529" y="623"/></g>
<g id="tr11"><use href="#N" x="1529" y="663"/><use href="#C" x="1529" y="663"/></g>
<g id="tr12"><use href="#N" x="1529" y="705"/><use href="#C" x="1529" y="705"/><text class="t" x="1546" y="716.3" font-size="4.6">I think slack<tspan x="1546" dy="6.3">time is really</tspan><tspan x="1546" dy="6.3">important.</tspan></text></g>
<g id="tr13"><use href="#N" x="1529" y="747"/><use href="#C" x="1529" y="747"/></g>
<g id="tr14"><use href="#N" x="1529" y="784"/><use href="#C" x="1529" y="784"/></g>
<g id="tr15"><use href="#N" x="1529" y="826"/><use href="#C" x="1529" y="826"/></g>

<!-- Curiosity -->
<g id="cu1"><use href="#N" x="1575" y="225"/><text class="t" x="1592" y="235" font-size="7.3">You have<tspan x="1592" dy="9.5">to be</tspan><tspan x="1592" dy="9.5">curious.</tspan></text></g>
<g id="cu2"><use href="#N" x="1575" y="267"/><text class="t" x="1592" y="275" font-size="4">A good<tspan x="1592" dy="5.2">designer</tspan><tspan x="1592" dy="5.2">Based on my</tspan><tspan x="1592" dy="5.2">experience is</tspan><tspan x="1592" dy="5.2">always curious</tspan></text></g>
<g id="cu3"><use href="#N" x="1575" y="311"/><text class="t" x="1592" y="319.6" font-size="5">Reading<tspan x="1592" dy="6.8">Books not</tspan><tspan x="1592" dy="6.8">related to</tspan><tspan x="1592" dy="6.8">design</tspan></text></g>
<g id="cu4"><use href="#N" x="1575" y="356"/></g>
<g id="cu5"><use href="#N" x="1575" y="399"/><use href="#C" x="1575" y="399"/><text class="t" x="1592" y="410.1" font-size="3.2">How do you<tspan x="1592" dy="4">encourage people</tspan><tspan x="1592" dy="4">or motivate them</tspan><tspan x="1592" dy="4">to be curious</tspan></text></g>
<g id="cu6"><use href="#N" x="1575" y="440"/><use href="#C" x="1575" y="440"/></g>
<g id="cu7"><use href="#N" x="1575" y="482"/><use href="#C" x="1575" y="482"/></g>
<g id="cu8"><use href="#N" x="1575" y="523"/><use href="#C" x="1575" y="523"/><text class="t" x="1592" y="532.2" font-size="4.6">read<tspan x="1592" dy="5.6">everything</tspan><tspan x="1592" dy="5.6">that is not</tspan><tspan x="1592" dy="5.6">nailed down</tspan></text></g>
<g id="cu9"><use href="#N" x="1575" y="563"/><use href="#C" x="1575" y="563"/></g>
<g id="cu10"><use href="#N" x="1575" y="607"/><use href="#C" x="1575" y="607"/></g>

<!-- Singularity, exposure, Leadership, Agile -->
<g id="si1"><use href="#N" x="1620" y="229"/><use href="#C" x="1620" y="229"/></g>
<g id="si2"><use href="#N" x="1620" y="275"/><use href="#C" x="1620" y="275"/></g>
<g id="xp1"><use href="#N" x="1663" y="229"/><use href="#C" x="1663" y="229"/></g>
<g id="ld1"><use href="#N" x="1705" y="225"/><use href="#C" x="1705" y="225"/></g>
<g id="ld2"><use href="#N" x="1705" y="266"/><text class="t" x="1722" y="281.3" font-size="5.2">Servant<tspan x="1722" dy="7">Leadership</tspan></text></g>
<g id="ag1"><use href="#N" x="1749" y="225"/><use href="#C" x="1749" y="225"/></g>
<g id="ag2"><use href="#N" x="1749" y="265"/><use href="#C" x="1749" y="265"/></g>
<g id="ag3"><use href="#N" x="1751" y="304"/><use href="#C" x="1751" y="304"/></g>
</svg>
